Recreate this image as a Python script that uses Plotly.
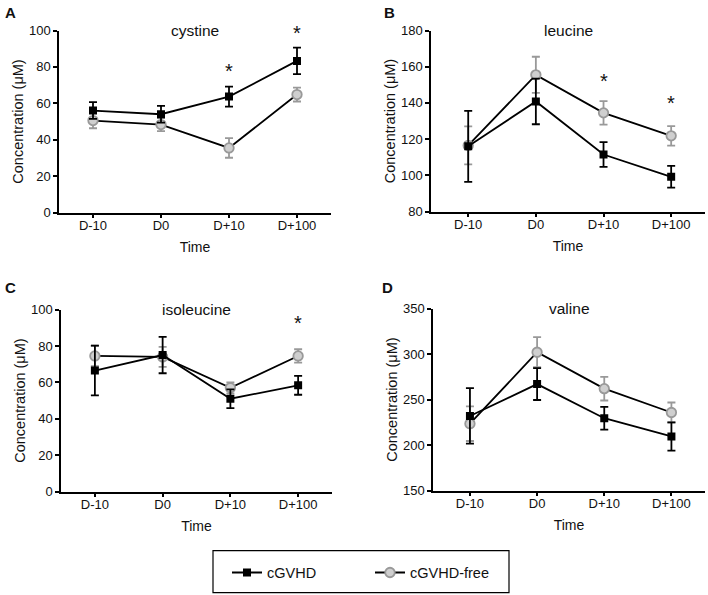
import plotly.graph_objects as go

# ---------------- data ----------------
time_points = ["D-10", "D0", "D+10", "D+100"]
panel_titles = ["cystine", "leucine", "isoleucine", "valine"]
panel_letters = ["A", "B", "C", "D"]

cgvhd_cystine = [56.0, 54.0, 63.7, 83.3]
cgvhd_cystine_err = [4.6, 4.6, 5.5, 7.3]
free_cystine = [50.5, 48.3, 35.5, 64.8]
free_cystine_err = [4.2, 3.6, 5.4, 3.8]

cgvhd_leucine = [116.0, 140.8, 111.5, 99.2]
cgvhd_leucine_err = [19.6, 12.6, 6.8, 6.0]
free_leucine = [116.5, 155.5, 134.5, 121.8]
free_leucine_err = [10.5, 10.0, 6.5, 5.4]

cgvhd_isoleucine = [66.5, 75.0, 51.0, 58.4]
cgvhd_isoleucine_err = [13.7, 10.0, 5.2, 5.2]
free_isoleucine = [74.5, 74.0, 57.0, 74.5]
free_isoleucine_err = [5.6, 5.5, 3.0, 3.7]

cgvhd_valine = [232.0, 267.0, 229.5, 209.5]
cgvhd_valine_err = [30.5, 17.5, 12.5, 15.5]
free_valine = [223.5, 302.0, 262.0, 235.8]
free_valine_err = [19.0, 16.5, 13.0, 11.0]

y_ranges = [[0, 100], [80, 180], [0, 100], [150, 350]]
y_ticks = [[0, 20, 40, 60, 80, 100], [80, 100, 120, 140, 160, 180],
           [0, 20, 40, 60, 80, 100], [150, 200, 250, 300, 350]]

# significance marks: (category, y value)
star_cystine = [("D+10", 77.5), ("D+100", 98.5)]
star_leucine = [("D+10", 152.0), ("D+100", 140.0)]
star_isoleucine = [("D+100", 92.5)]
star_valine = []

series_names = ["cGVHD", "cGVHD-free"]

panels = [
    (cgvhd_cystine, cgvhd_cystine_err, free_cystine, free_cystine_err, star_cystine),
    (cgvhd_leucine, cgvhd_leucine_err, free_leucine, free_leucine_err, star_leucine),
    (cgvhd_isoleucine, cgvhd_isoleucine_err, free_isoleucine, free_isoleucine_err, star_isoleucine),
    (cgvhd_valine, cgvhd_valine_err, free_valine, free_valine_err, star_valine),
]

# ---------------- layout geometry ----------------
W, H = 708, 604
VY0, VS = 6.5, 0.975   # vertical calibration of the capture


def fx(px):
    return px / W


def fy(py):
    return 1 - ((py - VY0) / VS) / H


boxes = [  # left, right, top, bottom (target pixels)
    (59, 331, 30, 212),
    (431, 705, 30, 211),
    (61, 332, 309, 491),
    (433, 705, 308, 490),
]
x_ranges = [[-0.5, 3.5], [-0.55, 3.5], [-0.5, 3.5], [-0.55, 3.5]]
letter_pos = [(10, 12), (389, 12), (10, 287), (388, 287)]

FONT = "Liberation Sans, Arial, Helvetica, sans-serif"
BLACK = "#000000"
GREY = "#999999"
GREY_FILL = "#cfcfcf"

fig = go.Figure()
annotations = []
layout_axes = {}

for i, (cg, cge, fr, fre, stars) in enumerate(panels):
    n = i + 1
    xa = "x" if n == 1 else f"x{n}"
    ya = "y" if n == 1 else f"y{n}"
    l, r, t, b = boxes[i]
    layout_axes["xaxis" if n == 1 else f"xaxis{n}"] = dict(
        domain=[fx(l), fx(r)], anchor=ya, type="category",
        categoryorder="array", categoryarray=time_points,
        range=x_ranges[i], showline=True, linecolor=BLACK, linewidth=1.5,
        ticks="outside", ticklen=4, tickwidth=1.5, tickcolor=BLACK,
        showgrid=False, zeroline=False, ticklabelstandoff=-4,
        tickfont=dict(family=FONT, size=13, color="#111"),
        title=dict(text="Time", font=dict(family=FONT, size=14, color="#111"), standoff=10),
    )
    layout_axes["yaxis" if n == 1 else f"yaxis{n}"] = dict(
        domain=[fy(b), fy(t)], anchor=xa,
        range=y_ranges[i], tickvals=y_ticks[i], showline=True, linecolor=BLACK,
        linewidth=1.5, ticks="outside", ticklen=4, tickwidth=1.5, tickcolor=BLACK,
        showgrid=False, zeroline=False,
        tickfont=dict(family=FONT, size=13, color="#111"),
        title=dict(text="Concentration (μM)", font=dict(family=FONT, size=14.5, color="#111"), standoff=2),
    )

    # cGVHD-free (grey circles)
    fig.add_trace(go.Scatter(
        x=time_points, y=fr, mode="lines+markers", name=series_names[1],
        legendgroup="free", showlegend=(i == 0), legendrank=2,
        line=dict(color=BLACK, width=1.8),
        marker=dict(symbol="circle", size=9.5, color=GREY_FILL, line=dict(color=GREY, width=1.8)),
        error_y=dict(type="data", array=fre, visible=True, color=GREY, thickness=1.8, width=4),
        xaxis=xa, yaxis=ya,
    ))
    # cGVHD (black squares)
    fig.add_trace(go.Scatter(
        x=time_points, y=cg, mode="lines+markers", name=series_names[0],
        legendgroup="cg", showlegend=(i == 0), legendrank=1,
        line=dict(color=BLACK, width=1.8),
        marker=dict(symbol="square", size=8, color=BLACK),
        error_y=dict(type="data", array=cge, visible=True, color=BLACK, thickness=1.8, width=4),
        xaxis=xa, yaxis=ya,
    ))

    # panel title
    annotations.append(dict(
        text=panel_titles[i], xref=f"{xa} domain", yref=f"{ya} domain",
        x=0.5, y=1.0, xanchor="center", yanchor="middle", showarrow=False,
        font=dict(family=FONT, size=15.5, color="#111"),
    ))
    # panel letter
    lx, ly = letter_pos[i]
    annotations.append(dict(
        text=f"<b>{panel_letters[i]}</b>", xref="paper", yref="paper",
        x=fx(lx), y=fy(ly), xanchor="center", yanchor="middle", showarrow=False,
        font=dict(family=FONT, size=15, color="#111"),
    ))
    # significance stars
    for cat, yv in stars:
        annotations.append(dict(
            text="*", xref=xa, yref=ya, x=cat, y=yv, xanchor="center",
            yanchor="middle", showarrow=False,
            font=dict(family=FONT, size=20, color="#111"),
        ))

# legend box
shapes = [dict(type="rect", xref="paper", yref="paper",
               x0=fx(213), x1=fx(509), y0=fy(592), y1=fy(550),
               line=dict(color=BLACK, width=1.2), fillcolor="rgba(0,0,0,0)")]

fig.update_layout(
    width=W, height=H, margin=dict(l=0, r=0, t=0, b=0),
    paper_bgcolor="white", plot_bgcolor="white",
    font=dict(family=FONT, color="#111"),
    showlegend=True,
    legend=dict(orientation="h", x=fx(227), y=fy(572), xanchor="left", yanchor="middle",
                font=dict(family=FONT, size=14.5, color="#111"),
                bgcolor="rgba(0,0,0,0)", borderwidth=0,
                entrywidth=98, entrywidthmode="pixels", itemwidth=30,
                traceorder="normal"),
    annotations=annotations, shapes=shapes,
    **layout_axes,
)

fig.write_html("out.html", config={"displayModeBar": False},
               post_script="document.body.style.margin='0';document.body.style.padding='0';")
